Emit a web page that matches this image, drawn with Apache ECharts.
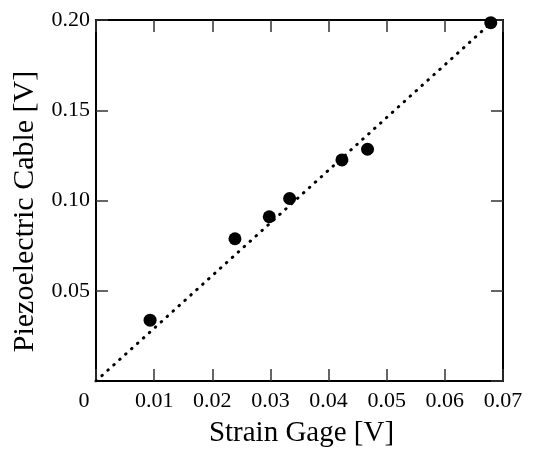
<!DOCTYPE html>
<html>
<head>
<meta charset="utf-8">
<script src="https://cdn.jsdelivr.net/npm/echarts@6/dist/echarts.min.js"></script>
<style>html,body{margin:0;padding:0;background:#fff;}#c{width:533px;height:453px;}</style>
</head>
<body>
<div id="c"></div>
<script>
// Measured points: strain gage voltage vs piezoelectric cable voltage
const strainGage = [0.0093, 0.0239, 0.0298, 0.0333, 0.0423, 0.0467, 0.0679];
const piezoCable = [0.0337, 0.0788, 0.0910, 0.1011, 0.1225, 0.1284, 0.1985];
// Fitted line end points
const fitX = [0, 0.0685];
const fitY = [0, 0.2];
// Axis tick settings
const xTicks = ['0', '0.01', '0.02', '0.03', '0.04', '0.05', '0.06', '0.07'];
const yTicks = ['0.05', '0.10', '0.15', '0.20'];
const xTitle = 'Strain Gage [V]';
const yTitle = 'Piezoelectric Cable [V]';

const font = 'Liberation Serif, Times New Roman, serif';
const scatterData = strainGage.map((x, i) => [x, piezoCable[i]]);
const fitData = fitX.map((x, i) => [x, fitY[i]]);

const frame = {show: true, onZero: false, lineStyle: {color: '#000', width: 2}};
const tick = {show: true, inside: true, length: 12, lineStyle: {color: '#333', width: 1.5}};

const chart = echarts.init(document.getElementById('c'), null, {renderer: 'canvas'});
chart.setOption({
  animation: false,
  backgroundColor: '#fff',
  grid: {left: 96, right: 30, top: 20, bottom: 68},
  xAxis: [{
    type: 'value', min: 0, max: 0.07, interval: 0.01,
    name: xTitle, nameLocation: 'middle', nameGap: 38,
    nameTextStyle: {fontFamily: font, fontSize: 29, color: '#000', padding: [0, 0, 0, 4]},
    axisLine: frame, axisTick: tick, splitLine: {show: false},
    axisLabel: {
      fontFamily: font, fontSize: 22, color: '#000', margin: 9,
      formatter: function (v) {
        const i = Math.round(v / 0.01);
        return i === 0 ? '{z|' + xTicks[0] + '}' : xTicks[i];
      },
      rich: {z: {fontFamily: font, fontSize: 22, color: '#000', padding: [0, 24, 0, 0]}}
    }
  }, {
    type: 'value', min: 0, max: 0.07, interval: 0.01, position: 'top',
    axisLine: frame, axisTick: tick, axisLabel: {show: false}, splitLine: {show: false}
  }],
  yAxis: [{
    type: 'value', min: 0, max: 0.2, interval: 0.05,
    name: yTitle, nameLocation: 'middle', nameGap: 52, nameRotate: 90,
    nameTextStyle: {fontFamily: font, fontSize: 30, color: '#000', padding: [0, 22, 0, 0]},
    axisLine: frame, axisTick: tick, splitLine: {show: false},
    axisLabel: {
      fontFamily: font, fontSize: 22, color: '#000', margin: 6, showMinLabel: false,
      formatter: function (v) {
        const i = Math.round(v / 0.05);
        return i === 0 ? '' : yTicks[i - 1];
      }
    }
  }, {
    type: 'value', min: 0, max: 0.2, interval: 0.05, position: 'right',
    axisLine: frame, axisTick: tick, axisLabel: {show: false}, splitLine: {show: false}
  }],
  series: [{
    type: 'line', data: fitData, showSymbol: false, symbol: 'none',
    lineStyle: {color: '#000', width: 3, type: [0.5, 7.5], cap: 'round'},
    z: 2
  }, {
    type: 'scatter', data: scatterData, symbol: 'circle', symbolSize: 13,
    itemStyle: {color: '#000', opacity: 1}, z: 3
  }]
});
</script>
</body>
</html>
